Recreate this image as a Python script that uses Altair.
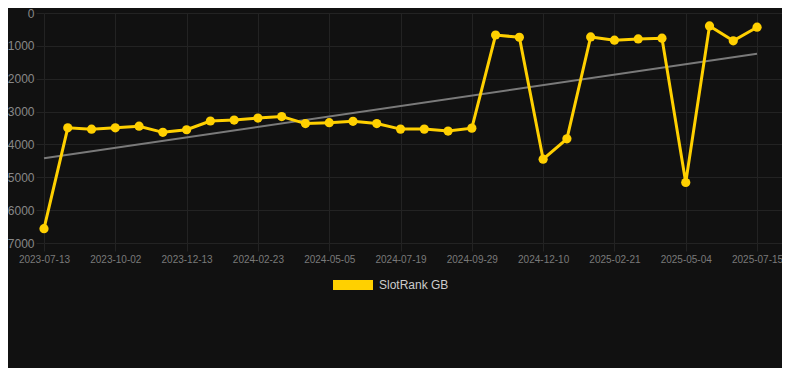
import altair as alt
import pandas as pd

dates = [
    "2023-07-13", "2023-08-08", "2023-09-05",
    "2023-10-02", "2023-10-26", "2023-11-19",
    "2023-12-13", "2024-01-06", "2024-01-30",
    "2024-02-23", "2024-03-18", "2024-04-11",
    "2024-05-05", "2024-05-30", "2024-06-24",
    "2024-07-19", "2024-08-12", "2024-09-05",
    "2024-09-29", "2024-10-23", "2024-11-16",
    "2024-12-10", "2025-01-03", "2025-01-27",
    "2025-02-21", "2025-03-17", "2025-04-10",
    "2025-05-04", "2025-05-28", "2025-06-21",
    "2025-07-15",
]
ranks = [
    6565, 3494, 3535, 3494, 3446, 3632, 3553, 3287, 3257, 3198,
    3151, 3366, 3337, 3298, 3366, 3534, 3534, 3593, 3504, 670,
    738, 4449, 3829, 729, 827, 788, 768, 5159, 394, 847,
    433,
]
series_name = "SlotRank GB"
y_ticks = [0, 1000, 2000, 3000, 4000, 5000, 6000, 7000]

df = pd.DataFrame({"idx": list(range(len(dates))), "date": dates, "rank": ranks,
                   "series": [series_name] * len(dates)})

label_idx = list(range(0, len(dates), 3))
label_arr = "[" + ",".join("'%s'" % dates[i] for i in label_idx) + "]"

GOLD = "#ffd000"
GRID = "#232323"

x_enc = alt.X("idx:Q",
              scale=alt.Scale(domain=[0, 31.05], nice=False, zero=False),
              axis=alt.Axis(values=label_idx, labelExpr=label_arr + "[round(datum.value/3)]",
                            title=None, grid=True, gridColor=GRID, domain=False,
                            tickColor=GRID, tickSize=8, labelColor="#7a7a7a",
                            labelFontSize=10, labelFont="Liberation Sans",
                            labelPadding=3, labelFlush=False, labelOverlap=False))
y_enc = alt.Y("rank:Q",
              scale=alt.Scale(domain=[0, 7000], reverse=True, nice=False),
              axis=alt.Axis(values=y_ticks, format="d", title=None, grid=True, gridColor=GRID,
                            domain=False, tickColor=GRID, tickSize=8,
                            labelColor="#888888", labelFontSize=12,
                            labelFont="Liberation Sans", labelPadding=2,
                            labelOverlap=False))

base = alt.Chart(df)

trend = base.transform_regression("idx", "rank").mark_line(
    color="#7a7a7a", strokeWidth=2).encode(x=x_enc, y=y_enc)

line = base.mark_line(color=GOLD, strokeWidth=3).encode(x=x_enc, y=y_enc)

points = base.mark_point(filled=True, size=85, opacity=1).encode(
    x=x_enc, y=y_enc,
    color=alt.Color("series:N",
                    scale=alt.Scale(domain=[series_name], range=[GOLD]),
                    legend=alt.Legend(title=None, orient="none", legendX=289, legendY=252,
                                      symbolType="M-1,-0.25L1,-0.25L1,0.25L-1,0.25Z",
                                      symbolSize=1600, symbolStrokeWidth=0,
                                      labelColor="#cccccc", labelFontSize=12,
                                      labelFont="Liberation Sans", labelOffset=6,
                                      padding=0)),
)

chart = alt.layer(trend, line, points).properties(
    width=738, height=230,
    background="#111111",
    autosize=alt.AutoSizeParams(type="none"),
    padding={"left": 36, "top": 5, "right": 0, "bottom": 125},
).configure_view(strokeWidth=0)

chart.save("out.html", embed_options={"renderer": "svg", "actions": False})
